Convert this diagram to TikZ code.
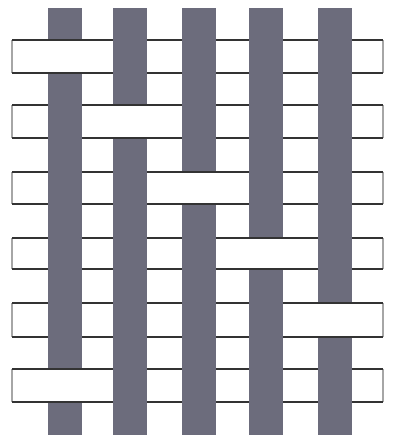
\documentclass[tikz,border=0pt]{standalone}
\usepackage{tikz}

\definecolor{warpgray}{RGB}{108,108,124}
\tikzset{
  warp/.style={fill=warpgray},
  weft/.style={fill=white},
  weftedge/.style={draw=black!80, line width=1.6pt},
  weftend/.style={draw=gray!70, line width=1.6pt}
}

\begin{document}
\begin{tikzpicture}[x=1pt,y=-1pt]
\useasboundingbox (0,0) rectangle (392,439);
% weft strips
\fill[weft] (12,40) rectangle (383,73);
\fill[weft] (12,105) rectangle (383,138);
\fill[weft] (12,172) rectangle (383,204);
\fill[weft] (12,238) rectangle (383,269);
\fill[weft] (12,303) rectangle (383,337);
\fill[weft] (12,369) rectangle (383,402);
\draw[weftend] (12,40)--(12,73) (383,40)--(383,73);
\draw[weftend] (12,105)--(12,138) (383,105)--(383,138);
\draw[weftend] (12,172)--(12,204) (383,172)--(383,204);
\draw[weftend] (12,238)--(12,269) (383,238)--(383,269);
\draw[weftend] (12,303)--(12,337) (383,303)--(383,337);
\draw[weftend] (12,369)--(12,402) (383,369)--(383,402);
\draw[weftedge] (12,40)--(383,40) (12,73)--(383,73);
\draw[weftedge] (12,105)--(383,105) (12,138)--(383,138);
\draw[weftedge] (12,172)--(383,172) (12,204)--(383,204);
\draw[weftedge] (12,238)--(383,238) (12,269)--(383,269);
\draw[weftedge] (12,303)--(383,303) (12,337)--(383,337);
\draw[weftedge] (12,369)--(383,369) (12,402)--(383,402);
% warp strips
\fill[warp] (48,8) rectangle (82,435);
\fill[warp] (113,8) rectangle (147,435);
\fill[warp] (182,8) rectangle (216,435);
\fill[warp] (249,8) rectangle (283,435);
\fill[warp] (318,8) rectangle (352,435);
% weft over warp
\fill[weft] (47,40) rectangle (83,73);
\draw[weftedge] (47,40)--(83,40) (47,73)--(83,73);
\fill[weft] (112,105) rectangle (148,138);
\draw[weftedge] (112,105)--(148,105) (112,138)--(148,138);
\fill[weft] (181,172) rectangle (217,204);
\draw[weftedge] (181,172)--(217,172) (181,204)--(217,204);
\fill[weft] (248,238) rectangle (284,269);
\draw[weftedge] (248,238)--(284,238) (248,269)--(284,269);
\fill[weft] (317,303) rectangle (353,337);
\draw[weftedge] (317,303)--(353,303) (317,337)--(353,337);
\fill[weft] (47,369) rectangle (83,402);
\draw[weftedge] (47,369)--(83,369) (47,402)--(83,402);
\end{tikzpicture}
\end{document}
